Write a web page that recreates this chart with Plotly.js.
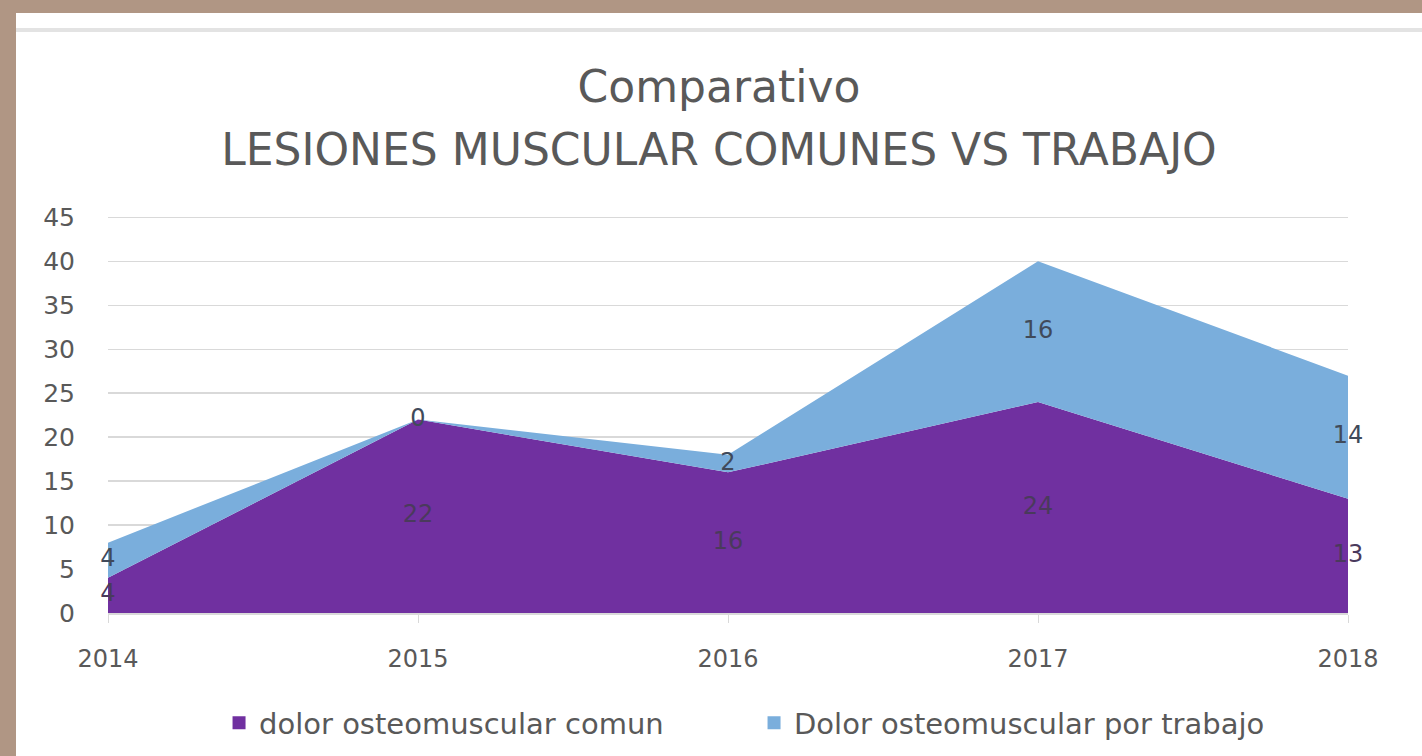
<!DOCTYPE html>
<html>
<head>
<meta charset="utf-8">
<script src="https://cdn.plot.ly/plotly-3.0.1.min.js"></script>
<style>
  html, body { margin: 0; padding: 0; width: 1422px; height: 756px; background: #b09684; overflow: hidden; }
  #chart { position: absolute; left: 16px; top: 13px; width: 1406px; height: 743px; background: #ffffff; }
</style>
</head>
<body>
<div id="chart"></div>
<script>
const years = [2014, 2015, 2016, 2017, 2018];
const comun = [4, 22, 16, 24, 13];
const trabajo = [4, 0, 2, 16, 14];
const seriesNames = ['dolor osteomuscular comun', 'Dolor osteomuscular por trabajo'];
const yTicks = [0, 5, 10, 15, 20, 25, 30, 35, 40, 45];

const purple = '#7030a0';
const blue = '#7aaedc';
const textGray = '#595959';
const font = 'DejaVu Sans, sans-serif';

// label positions: middle of each band
const comunMid = comun.map(v => v / 2);
const trabajoMid = comun.map((v, i) => v + trabajo[i] / 2);

const traces = [
  {
    x: years, y: comun, name: seriesNames[0], type: 'scatter', mode: 'none',
    stackgroup: 'one', fillcolor: purple, line: {width: 0, color: purple},
    hoverinfo: 'x+y', showlegend: false
  },
  {
    x: years, y: trabajo, name: seriesNames[1], type: 'scatter', mode: 'none',
    stackgroup: 'one', fillcolor: blue, line: {width: 0, color: blue},
    hoverinfo: 'x+y', showlegend: false
  },
  {
    x: years, y: comunMid, text: comun.map(String), type: 'scatter', mode: 'text',
    textposition: 'middle center', textfont: {family: font, size: 24, color: '#4a3a5c'},
    showlegend: false, hoverinfo: 'skip', cliponaxis: false
  },
  {
    x: years, y: trabajoMid, text: trabajo.map(String), type: 'scatter', mode: 'text',
    textposition: 'middle center', textfont: {family: font, size: 24, color: '#404a5a'},
    showlegend: false, hoverinfo: 'skip', cliponaxis: false
  },
  // legend entries with square swatches (no visible points)
  { x: [null], y: [null], type: 'scatter', mode: 'markers', name: seriesNames[0],
    marker: {color: purple, symbol: 'square', size: 13}, showlegend: true, hoverinfo: 'skip' },
  { x: [null], y: [null], type: 'scatter', mode: 'markers', name: seriesNames[1],
    marker: {color: blue, symbol: 'square', size: 13}, showlegend: true, hoverinfo: 'skip' }
];

const layout = {
  width: 1406, height: 743,
  margin: {l: 92, r: 74, t: 200, b: 143, autoexpand: false},
  paper_bgcolor: '#ffffff', plot_bgcolor: '#ffffff',
  font: {family: font, color: textGray},
  title: {
    text: '<span style="font-size:44px">Comparativo</span><br><span style="font-size:44px">LESIONES MUSCULAR COMUNES VS TRABAJO</span>',
    font: {family: font, size: 48, color: textGray},
    x: 0.5, xanchor: 'center', xref: 'container',
    y: 0.880, yanchor: 'middle', yref: 'container'
  },
  xaxis: {
    type: 'linear', range: [2014, 2018], tickvals: years, ticktext: years.map(String),
    showgrid: false, zeroline: false, showline: true, linecolor: '#d9d9d9', linewidth: 1.5,
    ticks: 'outside', ticklen: 8, tickcolor: '#d9d9d9',
    tickfont: {family: font, size: 24, color: textGray}, ticklabelstandoff: 16
  },
  yaxis: {
    range: [0, 45.5], tickvals: yTicks, showgrid: true, gridcolor: '#d9d9d9', gridwidth: 1.5,
    zeroline: false, showline: false, ticks: '',
    tickfont: {family: font, size: 25, color: textGray}, ticklabelstandoff: 32
  },
  showlegend: true,
  legend: {
    orientation: 'h', x: 0.521, xanchor: 'center', y: -0.275, yanchor: 'middle',
    font: {family: font, size: 29, color: textGray}, traceorder: 'normal',
    entrywidth: 490, entrywidthmode: 'pixels'
  },
  shapes: [
    {type: 'line', xref: 'paper', yref: 'paper', x0: -0.08, x1: 1.07, y0: 1.4575, y1: 1.4575,
     line: {color: '#e3e3e3', width: 4}}
  ]
};

Plotly.newPlot('chart', traces, layout, {displayModeBar: false, staticPlot: true});
</script>
</body>
</html>
